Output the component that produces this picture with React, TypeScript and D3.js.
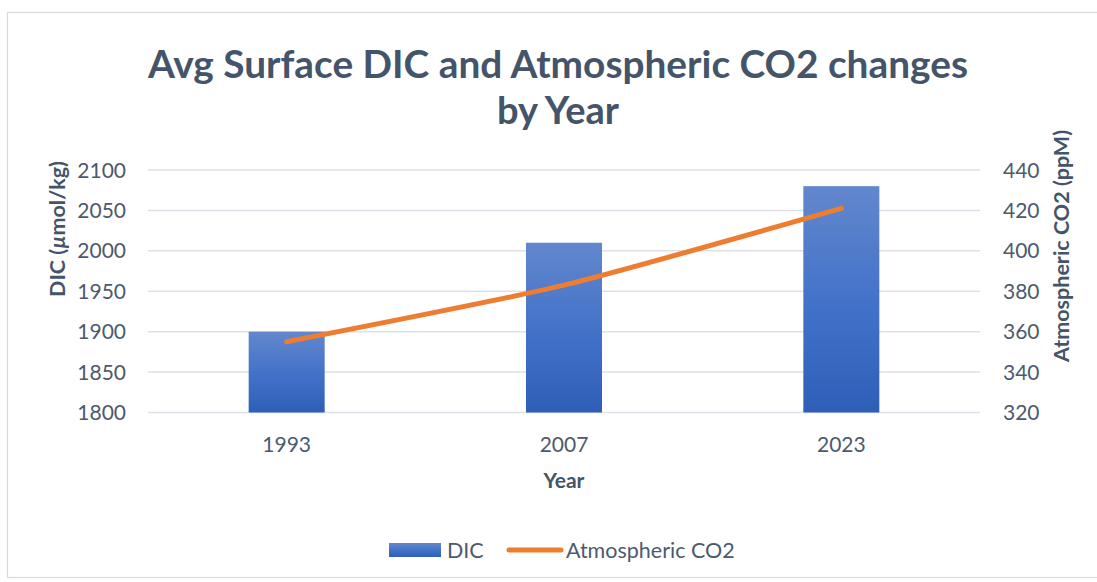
import React from "react";
import * as d3 from "d3";

// Chart data
const years = ["1993", "2007", "2023"];
const dicValues = [1900, 2010, 2080];
const co2Values = [355, 383, 421];
const dicTicks = [1800, 1850, 1900, 1950, 2000, 2050, 2100];
const co2Ticks = [320, 340, 360, 380, 400, 420, 440];

const W = 1097;
const H = 582;
const plot = { left: 148, right: 980, top: 170, bottom: 412.5 };
const FONT = "Lato, 'Open Sans', sans-serif";
const TEXT = "#44546A";
const TICK = "#4B5A6E";

export default function App() {
  const x = d3
    .scaleBand<string>()
    .domain(years)
    .range([plot.left, plot.right])
    .paddingInner(0.726)
    .paddingOuter(0.363);
  const yL = d3.scaleLinear().domain([1800, 2100]).range([plot.bottom, plot.top]);
  const yR = d3.scaleLinear().domain([320, 440]).range([plot.bottom, plot.top]);

  const cx = (d: string) => (x(d) ?? 0) + x.bandwidth() / 2;
  const line = d3
    .line<number>()
    .x((_, i) => cx(years[i]))
    .y((v) => yR(v))
    .curve(d3.curveCardinal.tension(0.45));

  return (
    <svg
      width={W}
      height={H}
      style={{ position: "absolute", left: 0, top: 0, background: "#fff" }}
      fontFamily={FONT}
    >
      <defs>
        <linearGradient id="barGrad" x1="0" y1="0" x2="0" y2="1">
          <stop offset="0" stopColor="#6387CD" />
          <stop offset="0.5" stopColor="#4373C9" />
          <stop offset="1" stopColor="#2E5EB7" />
        </linearGradient>
      </defs>
      <rect x={0} y={0} width={W} height={H} fill="#fff" />
      <rect x={7.5} y={12.5} width={W + 10} height={565} fill="none" stroke="#D9D9D9" strokeWidth={1.2} />

      {/* title */}
      <text x={558} y={78} textAnchor="middle" fontSize={38} fontWeight={700} fill={TEXT} textLength={820} lengthAdjust="spacingAndGlyphs">
        Avg Surface DIC and Atmospheric CO2 changes
      </text>
      <text x={558} y={124} textAnchor="middle" fontSize={38} fontWeight={700} fill={TEXT}>
        by Year
      </text>

      {/* gridlines */}
      {dicTicks.map((t) => (
        <line key={t} x1={plot.left} x2={plot.right} y1={yL(t)} y2={yL(t)} stroke="#DDE1E7" strokeWidth={1.5} />
      ))}

      {/* left axis labels */}
      {dicTicks.map((t) => (
        <text key={t} x={126} y={yL(t) + 7.5} textAnchor="end" fontSize={21} fill={TICK}>
          {t}
        </text>
      ))}
      {/* right axis labels */}
      {co2Ticks.map((t) => (
        <text key={t} x={1003} y={yR(t) + 7.5} textAnchor="start" fontSize={21} fill={TICK}>
          {t}
        </text>
      ))}

      {/* axis titles */}
      <text transform="translate(65,229) rotate(-90)" textAnchor="middle" fontSize={21.5} fontWeight={700} fill={TEXT}>
        DIC (<tspan fontStyle="italic">µ</tspan>mol/kg)
      </text>
      <text transform="translate(1069,246) rotate(-90)" textAnchor="middle" fontSize={21.5} fontWeight={700} fill={TEXT}>
        Atmospheric CO2 (ppM)
      </text>

      {/* bars */}
      {years.map((yr, i) => (
        <rect
          key={yr}
          x={x(yr)}
          y={yL(dicValues[i])}
          width={x.bandwidth()}
          height={plot.bottom - yL(dicValues[i])}
          fill="url(#barGrad)"
        />
      ))}

      {/* CO2 line */}
      <path d={line(co2Values) ?? ""} fill="none" stroke="#ED7D31" strokeWidth={5} strokeLinecap="round" strokeLinejoin="round" />

      {/* category labels */}
      {years.map((yr) => (
        <text key={yr} x={cx(yr)} y={451.5} textAnchor="middle" fontSize={21} fill={TICK}>
          {yr}
        </text>
      ))}
      <text x={564} y={488} textAnchor="middle" fontSize={21} fontWeight={700} fill={TEXT}>
        Year
      </text>

      {/* legend */}
      <rect x={389} y={543} width={52} height={14} fill="url(#barGrad)" />
      <text x={447} y={557.5} fontSize={21.5} fill={TICK}>DIC</text>
      <line x1={509} x2={561} y1={550} y2={550} stroke="#ED7D31" strokeWidth={5} strokeLinecap="round" />
      <text x={566} y={557.5} fontSize={21.5} fill={TICK}>Atmospheric CO2</text>
    </svg>
  );
}
